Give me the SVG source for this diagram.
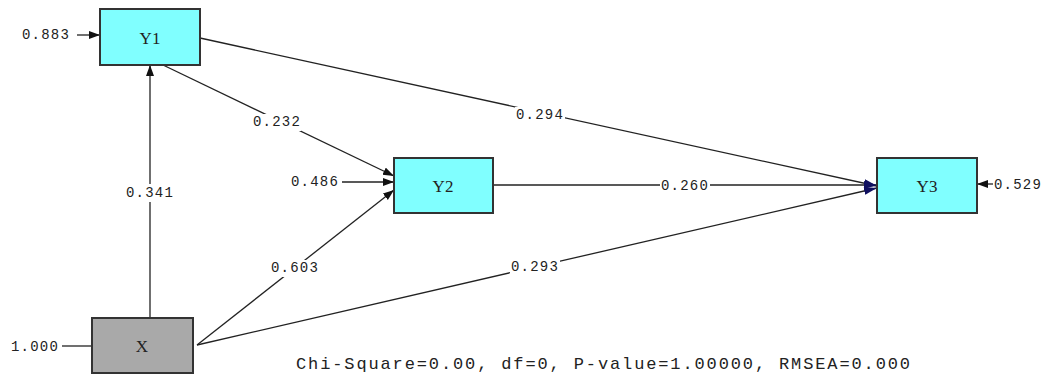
<svg xmlns="http://www.w3.org/2000/svg" width="1048" height="376" viewBox="0 0 1048 376">
<defs>
<marker id="ah" markerUnits="userSpaceOnUse" markerWidth="12" markerHeight="10" refX="11" refY="4" orient="auto"><path d="M0,0 L11,4 L0,8 Z" fill="#111"/></marker>
<marker id="ahb" markerUnits="userSpaceOnUse" markerWidth="14" markerHeight="10" refX="13" refY="4" orient="auto"><path d="M0,0 L13,4 L0,8 Z" fill="#101060"/></marker>
<style>
.box{stroke:#333;stroke-width:2}
.lat{fill:#80ffff}
.obs{fill:#a9a9a9}
.nm{font-family:"Liberation Serif",serif;font-size:17px;fill:#222;text-anchor:middle;dominant-baseline:central}
.lb{font-family:"Liberation Mono",monospace;font-size:14px;letter-spacing:1.2px;fill:#222;text-anchor:middle;dominant-baseline:central}
.ln{stroke:#222;stroke-width:1.3;fill:none}
.bg{fill:#fff}
.fit{font-family:"Liberation Mono",monospace;font-size:17px;fill:#222}
</style>
</defs>
<rect width="1048" height="376" fill="#fff"/>
<g id="connectors">
<line class="ln" x1="150" y1="318" x2="150" y2="65" marker-end="url(#ah)"/>
<line class="ln" x1="163" y1="65" x2="394" y2="176" marker-end="url(#ah)"/>
<line class="ln" x1="200" y1="38" x2="877" y2="186" marker-end="url(#ahb)"/>
<line class="ln" x1="197" y1="345" x2="394" y2="190" marker-end="url(#ah)"/>
<line class="ln" x1="493" y1="185" x2="877" y2="185" marker-end="url(#ahb)"/>
<line class="ln" x1="197" y1="345" x2="877" y2="188" marker-end="url(#ahb)"/>
<line class="ln" x1="77" y1="35" x2="100" y2="35" marker-end="url(#ah)"/>
<line class="ln" x1="342" y1="182" x2="394" y2="182" marker-end="url(#ah)"/>
<line class="ln" x1="993" y1="184" x2="977" y2="184" marker-end="url(#ah)"/>
<line class="ln" x1="62" y1="346" x2="92" y2="346"/>
<rect class="bg" x="127" y="184" width="46" height="18"/>
<text class="lb" x="150" y="193">0.341</text>
<rect class="bg" x="253" y="114" width="48" height="17"/>
<text class="lb" x="277" y="122">0.232</text>
<rect class="bg" x="515" y="107" width="50" height="17"/>
<text class="lb" x="540" y="115">0.294</text>
<rect class="bg" x="270" y="260" width="50" height="17"/>
<text class="lb" x="295" y="268">0.603</text>
<rect class="bg" x="660" y="178" width="50" height="16"/>
<text class="lb" x="685" y="186">0.260</text>
<rect class="bg" x="510" y="259" width="50" height="17"/>
<text class="lb" x="535" y="267">0.293</text>
<text class="lb" x="46" y="35">0.883</text>
<text class="lb" x="315" y="182">0.486</text>
<text class="lb" x="1018" y="185">0.529</text>
<text class="lb" x="35" y="347">1.000</text>
</g>
<g id="Y1"><rect class="box lat" x="100" y="9" width="100" height="56"/><text class="nm" x="150" y="38">Y1</text></g>
<g id="Y2"><rect class="box lat" x="394" y="158" width="99" height="55"/><text class="nm" x="443" y="186">Y2</text></g>
<g id="Y3"><rect class="box lat" x="877" y="158" width="100" height="55"/><text class="nm" x="927" y="186">Y3</text></g>
<g id="X"><rect class="box obs" x="92" y="318" width="101" height="55"/><text class="nm" x="142" y="346">X</text></g>
<text class="fit" x="296" y="369" textLength="614" lengthAdjust="spacing">Chi-Square=0.00, df=0, P-value=1.00000, RMSEA=0.000</text>
</svg>
